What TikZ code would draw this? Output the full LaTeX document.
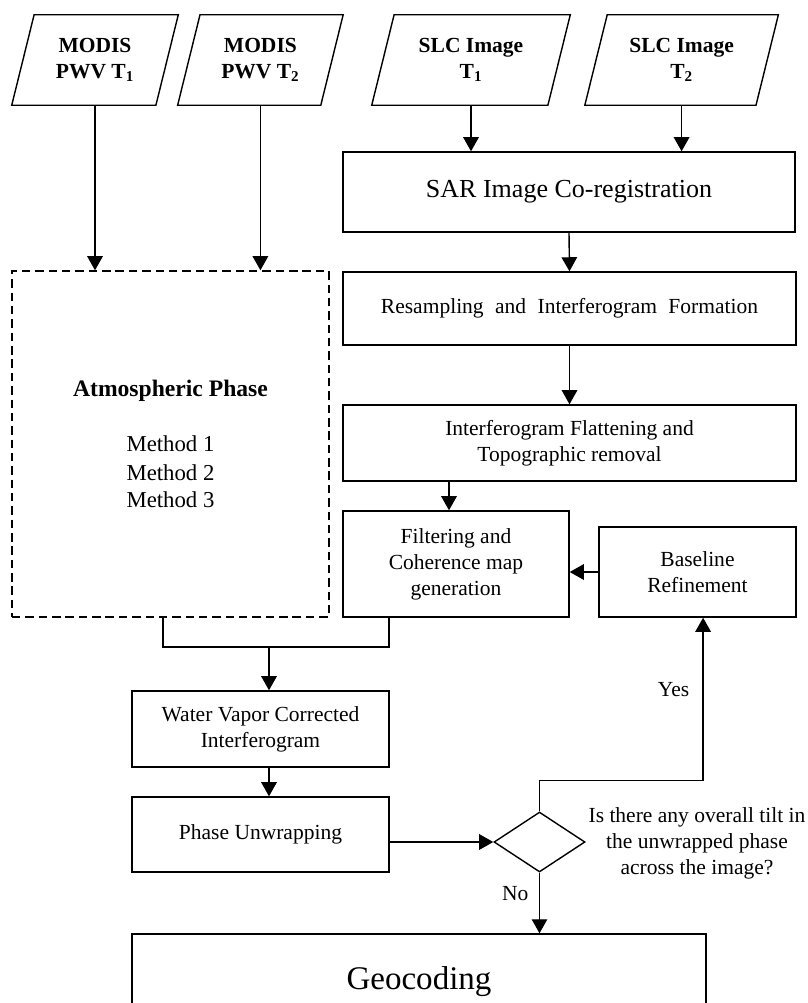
\documentclass[tikz,border=0pt]{standalone}
\usepackage{fontspec}
\setmainfont{Liberation Serif}
\usetikzlibrary{shapes.geometric,arrows.meta}

\tikzset{
  box/.style={draw, line width=1pt, rectangle, align=center, inner sep=2pt},
  dashbox/.style={draw, line width=1pt, dash pattern=on 6pt off 3.5pt, rectangle, align=center,
    font=\fontsize{16.2}{19}\selectfont},
  inbox/.style={rectangle, align=center, font=\fontsize{15.3}{19}\selectfont\bfseries,
    minimum height=2.25cm, inner sep=2pt, execute at begin node={\rule{0pt}{16.5pt}}},
  arr/.style={line width=1pt, -{Triangle[length=10pt,width=11pt]}},
  wire/.style={line width=1pt}
}

\begin{document}
\begin{tikzpicture}[font=\fontsize{15.3}{18.5}\selectfont]
    \useasboundingbox (0,0) rectangle (20.2,-25.075);

    % Inputs
    \node (m1) at (2.375,-1.5) [inbox, minimum width=4.15cm] {MODIS\\PWV T\textsubscript{1}};
    \node (m2) at (6.51,-1.5) [inbox, minimum width=4.125cm] {MODIS\\PWV T\textsubscript{2}};
    \node (s1) at (11.775,-1.5) [inbox, minimum width=4.95cm] {SLC Image\\T\textsubscript{1}};
    \node (s2) at (17.04,-1.5) [inbox, minimum width=4.825cm] {SLC Image\\T\textsubscript{2}};
    \foreach \n in {m1,m2,s1,s2}
        \draw[wire] ([xshift=0.56cm]\n.north west) -- (\n.north east)
            -- ([xshift=-0.56cm]\n.south east) -- (\n.south west) -- cycle;

    % InSAR chain
    \node (sar) at (14.225,-4.8) [box, minimum width=11.3cm, minimum height=2cm,
        font=\fontsize{18.5}{22}\selectfont] {SAR Image Co-registration};
    \node (res) at (14.2375,-7.7125) [box, minimum width=11.325cm, minimum height=1.825cm]
        {\spaceskip=0.53em\relax Resampling and Interferogram Formation};
    \node (flat) at (14.2375,-11.075) [box, minimum width=11.325cm, minimum height=1.9cm]
        {Interferogram Flattening and\\Topographic removal};
    \node (filt) at (11.4,-14.1) [box, minimum width=5.65cm, minimum height=2.65cm]
        {Filtering and\\Coherence map\\generation};
    \node (base) at (17.4375,-14.3) [box, minimum width=4.925cm, minimum height=2.25cm]
        {Baseline\\Refinement};

    % Atmosphere
    \node (atm) at (4.2625,-11.1) [dashbox, minimum width=7.925cm, minimum height=8.65cm]
        {\textbf{\fontsize{16.8}{19}\selectfont Atmospheric Phase}\\[20pt] Method 1\\[2pt] Method 2\\ Method 3};

    % Correction and unwrapping
    \node (wv) at (6.5125,-18.225) [box, minimum width=6.425cm, minimum height=1.9cm]
        {Water Vapor Corrected\\Interferogram};
    \node (pu) at (6.5125,-20.8625) [box, minimum width=6.425cm, minimum height=1.875cm]
        {Phase Unwrapping};
    \node (dia) at (13.4875,-21.05) [draw, line width=1pt, diamond, inner sep=0pt,
        minimum width=2.275cm, minimum height=1.5cm] {};
    \node (q) at (17.425,-21.075) [align=center]
        {Is there any overall tilt in\\the unwrapped phase\\across the image?};
    \node (geo) at (10.475,-24.55) [box, minimum width=14.35cm, minimum height=2.4cm,
        font=\fontsize{23.5}{28}\selectfont] {Geocoding};
    \coordinate (jn) at (6.725,-16.175);

    % Connectors
    \draw[arr] (m1.south) -- (m1.south |- atm.north);
    \draw[arr] (m2.south) -- (m2.south |- atm.north);
    \draw[arr] (s1.south) -- (s1.south |- sar.north);
    \draw[arr] (s2.south) -- (s2.south |- sar.north);
    \draw[arr] (sar.south) -- (res.north);
    \draw[arr] (res.south) -- (flat.north);
    \draw[arr] ([xshift=-0.175cm]filt.north |- flat.south) -- ([xshift=-0.175cm]filt.north);
    \draw[arr] (base.west) -- (base.west -| filt.east);
    \draw[wire] ([xshift=-0.1875cm]atm.south) |- (jn);
    \draw[wire] ([xshift=-1.675cm]filt.south) |- (jn);
    \draw[arr] (jn) -- (jn |- wv.north);
    \draw[arr] (wv.south -| jn) -- (pu.north -| jn);
    \draw[arr] (pu.east |- dia.west) -- (dia.west);
    \draw[arr] (dia.north) -- ++(0,0.775) -| node[pos=0.78, left=6pt] {Yes} ([xshift=0.14cm]base.south);
    \draw[arr] (dia.south) -- node[pos=0.35, left=4pt] {No} (dia.south |- geo.north);
\end{tikzpicture}
\end{document}
